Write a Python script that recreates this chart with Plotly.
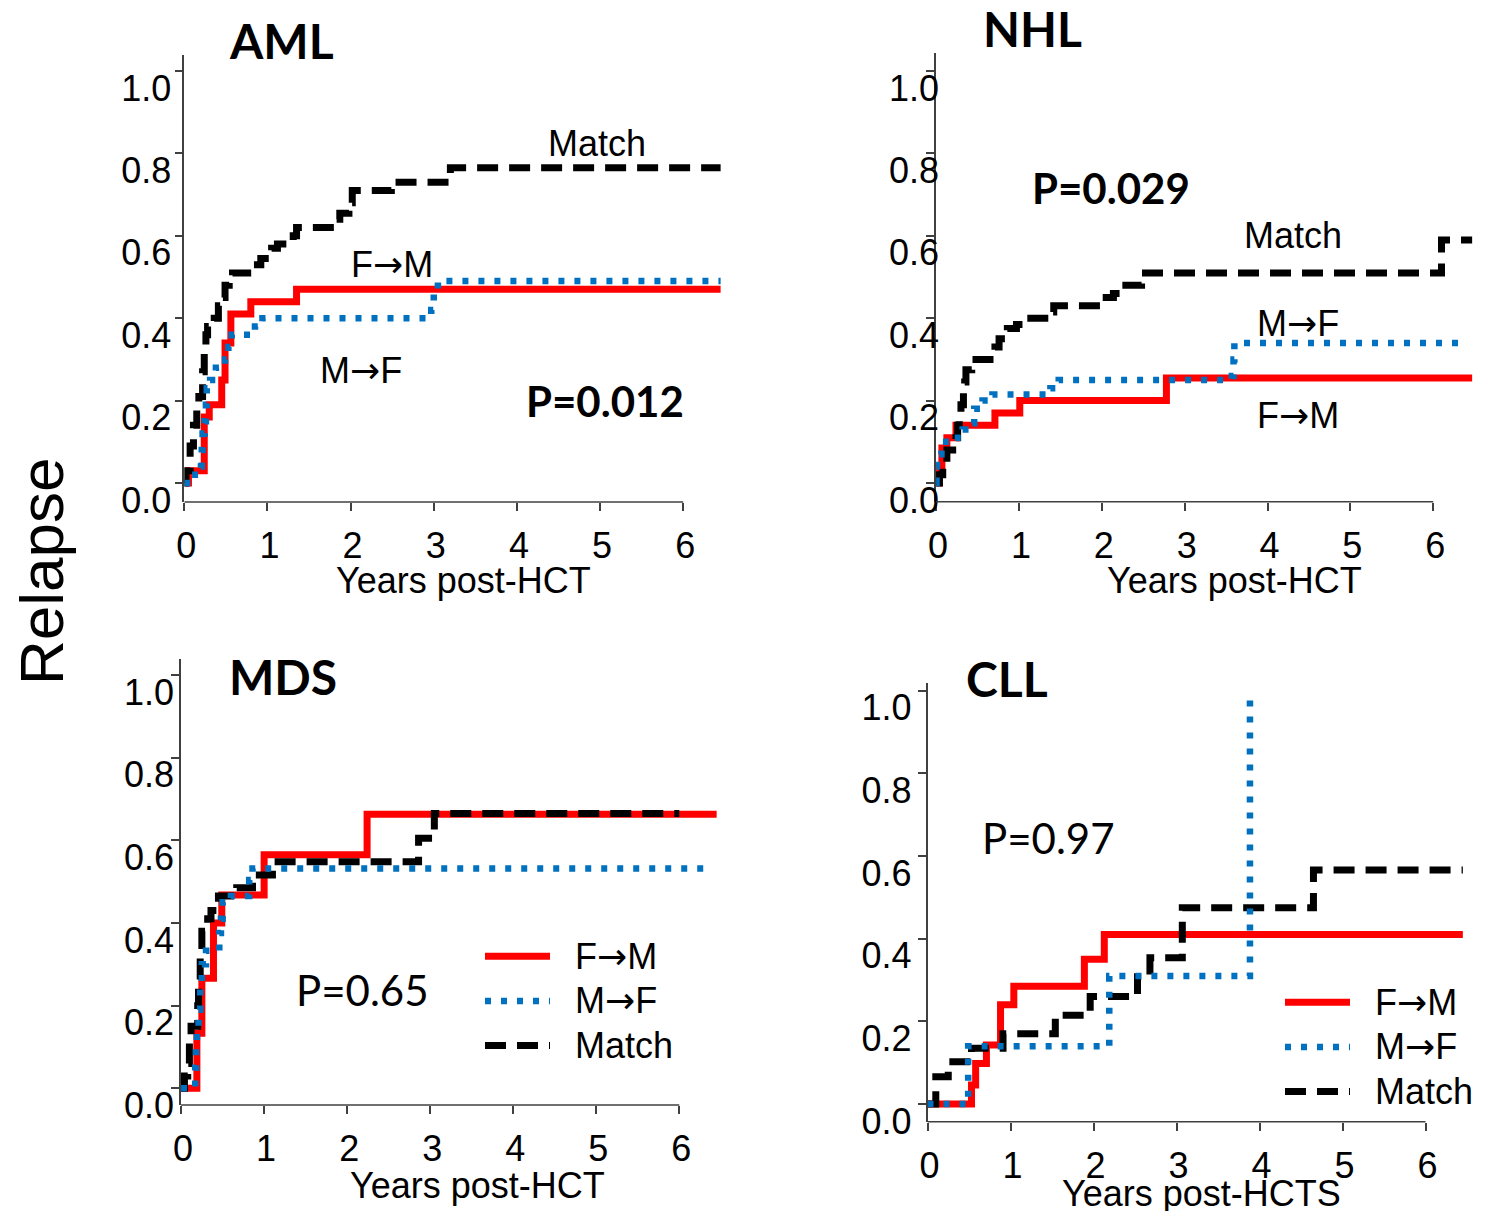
import plotly.graph_objects as go

# ---------------- data: years post-HCT vs cumulative incidence of relapse ----------------
# AML
aml_fm_t = [0, 0.05, 0.24, 0.30, 0.45, 0.49, 0.56, 0.80, 1.35, 6.45]
aml_fm_v = [0, 0.03, 0.16, 0.19, 0.25, 0.34, 0.41, 0.44, 0.47, 0.47]
aml_mf_t = [0, 0.09, 0.20, 0.21, 0.22, 0.245, 0.26, 0.27, 0.31, 0.38, 0.49, 0.53, 0.57, 0.85, 0.94, 2.97, 3.00, 3.05, 6.45]
aml_mf_v = [0, 0.02, 0.04, 0.08, 0.12, 0.15, 0.19, 0.23, 0.25, 0.28, 0.30, 0.33, 0.36, 0.38, 0.40, 0.42, 0.46, 0.49, 0.49]
aml_match_t = [0, 0.02, 0.07, 0.11, 0.15, 0.175, 0.22, 0.24, 0.26, 0.28, 0.36, 0.41, 0.45, 0.49, 0.54, 0.58, 0.82, 0.92,
               1.05, 1.12, 1.31, 1.35, 1.83, 1.87, 1.98, 2.02, 2.49, 3.20, 6.45]
aml_match_v = [0, 0.03, 0.09, 0.14, 0.185, 0.21, 0.27, 0.32, 0.36, 0.38, 0.40, 0.43, 0.45, 0.48, 0.50, 0.51, 0.53, 0.545,
               0.57, 0.58, 0.60, 0.62, 0.64, 0.655, 0.68, 0.71, 0.73, 0.765, 0.765]

# NHL
nhl_fm_t = [0, 0.04, 0.07, 0.13, 0.24, 0.71, 1.01, 2.78, 6.47]
nhl_fm_v = [0, 0.04, 0.085, 0.11, 0.14, 0.17, 0.20, 0.255, 0.255]
nhl_mf_t = [0, 0.005, 0.01, 0.065, 0.22, 0.32, 0.43, 0.46, 0.56, 0.68, 1.38, 1.48, 3.57, 3.59, 3.60, 6.36]
nhl_mf_v = [0, 0.04, 0.07, 0.10, 0.11, 0.13, 0.145, 0.18, 0.20, 0.215, 0.23, 0.25, 0.26, 0.30, 0.34, 0.34]
nhl_match_t = [0, 0.04, 0.08, 0.13, 0.20, 0.24, 0.26, 0.28, 0.30, 0.33, 0.345, 0.36, 0.43, 0.71, 0.76, 0.86, 0.97,
               1.10, 1.36, 1.42, 2.01, 2.14, 2.22, 2.48, 6.10, 6.47]
nhl_match_v = [0, 0.02, 0.05, 0.08, 0.10, 0.11, 0.14, 0.165, 0.19, 0.22, 0.245, 0.275, 0.30, 0.33, 0.35, 0.375, 0.385,
               0.40, 0.415, 0.43, 0.45, 0.46, 0.48, 0.51, 0.59, 0.59]

# MDS
mds_fm_t = [0, 0.19, 0.25, 0.39, 0.49, 1.00, 2.24, 6.45]
mds_fm_v = [0, 0.133, 0.266, 0.40, 0.468, 0.565, 0.663, 0.663]
mds_mf_t = [0, 0.17, 0.18, 0.19, 0.21, 0.23, 0.25, 0.30, 0.46, 0.48, 0.50, 0.60, 0.82, 0.86, 6.35]
mds_mf_v = [0, 0.05, 0.10, 0.15, 0.19, 0.25, 0.30, 0.333, 0.376, 0.41, 0.45, 0.465, 0.504, 0.532, 0.532]
mds_match_t = [0, 0.04, 0.08, 0.10, 0.12, 0.20, 0.21, 0.23, 0.25, 0.32, 0.36, 0.45, 0.67, 0.86, 1.10, 2.86, 3.05, 6.0]
mds_match_v = [0, 0.03, 0.06, 0.11, 0.15, 0.20, 0.26, 0.32, 0.38, 0.41, 0.43, 0.465, 0.485, 0.516, 0.548, 0.605, 0.665, 0.665]

# CLL
cll_fm_t = [0, 0.53, 0.58, 0.71, 0.88, 1.04, 1.89, 2.13, 6.45]
cll_fm_v = [0, 0.046, 0.098, 0.143, 0.24, 0.285, 0.35, 0.41, 0.41]
cll_mf_t = [0, 0.49, 2.19, 3.885]
cll_mf_v = [0, 0.14, 0.31, 1.0]
cll_match_t = [0, 0.10, 0.25, 0.53, 0.91, 1.54, 1.96, 2.53, 2.68, 3.07, 4.65, 6.45]
cll_match_v = [0, 0.066, 0.102, 0.135, 0.17, 0.215, 0.26, 0.308, 0.354, 0.475, 0.566, 0.566]

x_tick_vals = [0, 1, 2, 3, 4, 5, 6]
y_tick_vals = [0.0, 0.2, 0.4, 0.6, 0.8, 1.0]

# ---------------- page geometry (browser body has an 8px margin) ----------------
OFF = 8
W, H = 1488 - 2 * OFF, 1219 - 2 * OFF


def fx(px):
    return (px - OFF) / W


def fy(py):
    return 1 - (py - OFF) / H


# ---------------- styles ----------------
ARIAL = "Liberation Sans"
CALIBRI = "Lato"
AX = "#404040"
ARROW = '<span style="font-family:DejaVu Sans">→</span>'
styles = {
    "F→M": dict(color="#FF0000", width=7, dash="solid"),
    "M→F": dict(color="#0070C0", width=6.5, dash="6px,10px"),
    "Match": dict(color="#000000", width=7, dash="21px,11px"),
}
labels = {"F→M": "F" + ARROW + "M", "M→F": "M" + ARROW + "F", "Match": "Match"}
draw_order = ["F→M", "Match", "M→F"]
rank = {"F→M": 1, "M→F": 2, "Match": 3}

# panel geometry in screen pixels: x0 = year 0, kx = px per year, y0 = value 0, ky = px per unit
panels = [
    dict(n=1, x0=184.3, kx=83.15, y0=483.0, ky=412.0, ybot=502.0, ytop=55.0, ystand=-4, legend=None,
         series={"F→M": (aml_fm_t, aml_fm_v), "M→F": (aml_mf_t, aml_mf_v), "Match": (aml_match_t, aml_match_v)}),
    dict(n=2, x0=936.1, kx=82.85, y0=483.0, ky=412.0, ybot=501.7, ytop=53.0, ystand=-20, legend=None,
         series={"F→M": (nhl_fm_t, nhl_fm_v), "M→F": (nhl_mf_t, nhl_mf_v), "Match": (nhl_match_t, nhl_match_v)}),
    dict(n=3, x0=181.1, kx=83.03, y0=1088.3, ky=413.3, ybot=1105.0, ytop=659.0, ystand=-10, legend="legend2",
         series={"F→M": (mds_fm_t, mds_fm_v), "M→F": (mds_mf_t, mds_mf_v), "Match": (mds_match_t, mds_match_v)}),
    dict(n=4, x0=927.5, kx=83.0, y0=1104.0, ky=413.3, ybot=1121.7, ytop=683.0, ystand=-1, legend="legend3",
         series={"F→M": (cll_fm_t, cll_fm_v), "M→F": (cll_mf_t, cll_mf_v), "Match": (cll_match_t, cll_match_v)}),
]

XMAX = 6.55
fig = go.Figure()
layout = {}
shapes = []

for p in panels:
    n = p["n"]
    xa = "x" if n == 1 else f"x{n}"
    ya = "y" if n == 1 else f"y{n}"
    xkey = "xaxis" if n == 1 else f"xaxis{n}"
    ykey = "yaxis" if n == 1 else f"yaxis{n}"
    ymin = (p["y0"] - p["ybot"]) / p["ky"]
    ymax = (p["y0"] - p["ytop"]) / p["ky"]
    layout[xkey] = dict(domain=[fx(p["x0"]), fx(p["x0"] + XMAX * p["kx"])], range=[0, XMAX], anchor=ya,
                        showline=False, ticks="outside", ticklen=8, tickwidth=1.5, tickcolor=AX,
                        tickvals=x_tick_vals, showgrid=False, zeroline=False,
                        tickfont=dict(family=ARIAL, size=36, color="black"),
                        ticklabelstandoff=4, ticklabelshift=2, fixedrange=True)
    layout[ykey] = dict(domain=[fy(p["ybot"]), fy(p["ytop"])], range=[ymin, ymax], anchor=xa, showline=True,
                        linecolor=AX, linewidth=1.5, ticks="outside", ticklen=8, tickwidth=1.5, tickcolor=AX,
                        tickvals=y_tick_vals, tickformat=".1f", showgrid=False, zeroline=False,
                        tickfont=dict(family=ARIAL, size=36, color="black"),
                        ticklabelshift=17, ticklabelstandoff=p["ystand"], fixedrange=True)
    # x-axis line, drawn only over the 0-6 year span of the axis
    shapes.append(dict(type="line", xref=xa, x0=0, x1=6, yref=f"{ya} domain", y0=0, y1=0,
                       line=dict(color=AX, width=1.5), layer="above"))
    for name in draw_order:
        t, v = p["series"][name]
        st = styles[name]
        kw = dict(showlegend=False)
        if p["legend"]:
            kw = dict(showlegend=True, legend=p["legend"], legendrank=rank[name])
        fig.add_trace(go.Scatter(x=t, y=v, mode="lines",
                                 name='<span style="font-size:36px">\u00a0\u00a0' + labels[name] + "</span>",
                                 xaxis=xa, yaxis=ya,
                                 line=dict(shape="hv", color=st["color"], width=st["width"], dash=st["dash"]),
                                 hoverinfo="skip", **kw))


# ---------------- text (positions in screen pixels) ----------------
def txt(text, px, py, family, size, bold=False, **extra):
    t = f"<b>{text}</b>" if bold else text
    return dict(text=t, xref="paper", yref="paper", x=fx(px), y=fy(py), showarrow=False,
                xanchor="center", yanchor="middle",
                font=dict(family=family, size=size, color="black"), **extra)


ann = [
    # AML
    txt("AML", 281, 41, CALIBRI, 48, True),
    txt("Match", 597, 143, ARIAL, 36),
    txt(labels["F→M"], 392, 264, ARIAL, 36),
    txt(labels["M→F"], 361, 371, ARIAL, 36),
    txt("P=0.012", 605, 401, CALIBRI, 42, True),
    txt("Years post-HCT", 463, 580, ARIAL, 36),
    # NHL
    txt("NHL", 1032, 28, CALIBRI, 48, True),
    txt("P=0.029", 1111, 188, CALIBRI, 42, True),
    txt("Match", 1293, 235, ARIAL, 36),
    txt(labels["M→F"], 1298, 324, ARIAL, 36),
    txt(labels["F→M"], 1298, 415, ARIAL, 36),
    txt("Years post-HCT", 1234, 580, ARIAL, 36),
    # MDS
    txt("MDS", 283, 676, CALIBRI, 48, True),
    txt("P=0.65", 362, 990, CALIBRI, 42),
    txt("Years post-HCT", 477, 1185, ARIAL, 36),
    # CLL
    txt("CLL", 1007, 678, CALIBRI, 48, True),
    txt("P=0.97", 1048, 838, CALIBRI, 42),
    txt("Years post-HCTS", 1201, 1193, ARIAL, 36),
    # shared y title
    txt("Relapse", 41, 572, ARIAL, 62, textangle=-90),
]

leg_common = dict(font=dict(family=ARIAL, size=32, color="black"), bgcolor="rgba(0,0,0,0)",
                  borderwidth=0, xanchor="left", yanchor="top", itemwidth=65, tracegroupgap=0,
                  traceorder="normal")

fig.update_layout(
    width=W, height=H, autosize=False,
    margin=dict(l=0, r=0, t=0, b=0, pad=0, autoexpand=False),
    paper_bgcolor="white", plot_bgcolor="white",
    annotations=ann, shapes=shapes,
    legend2=dict(x=fx(480), y=fy(929), **leg_common),
    legend3=dict(x=fx(1280), y=fy(975), **leg_common),
    **layout,
)

fig.write_html("out.html")
